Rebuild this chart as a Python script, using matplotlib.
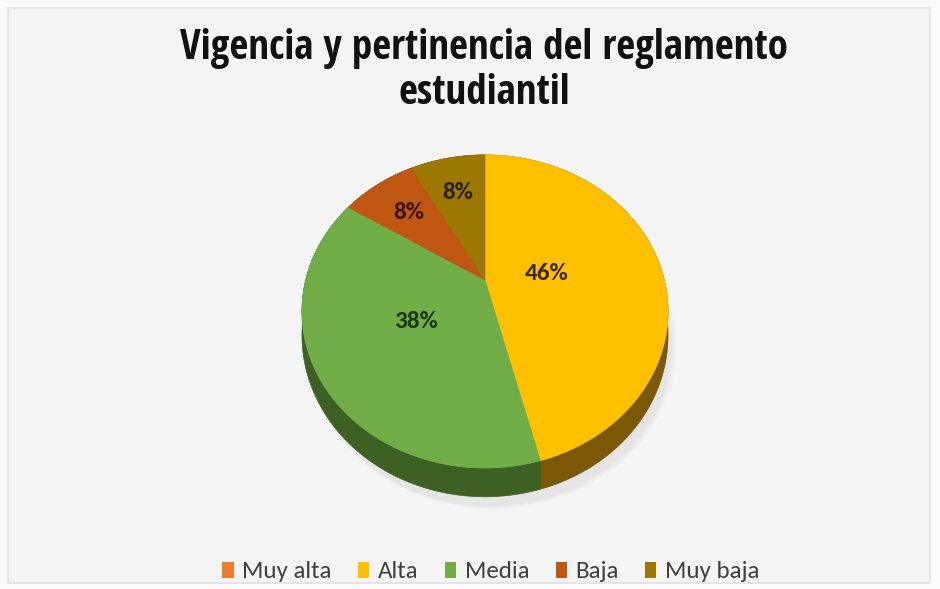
import numpy as np
import matplotlib.pyplot as plt
from matplotlib.patches import Polygon, Rectangle, Patch

# --------------------------------------
# Data
# --------------------------------------
categories = ['Muy alta', 'Alta', 'Media', 'Baja', 'Muy baja']
values = [0, 46, 38, 8, 8]
pct_labels = ['0%', '46%', '38%', '8%', '8%']

top_colors = ['#ED7D31', '#FFC000', '#70AD47', '#BF5712', '#9C7800']
side_colors = ['#9E4F1C', '#7B5806', '#3C6123', '#6E300A', '#5A4500']
text_colors = ['#3a1a05', '#3b2900', '#1d3810', '#3a1405', '#2b2000']
label_r = [0.5, 0.35, 0.45, 0.68, 0.68]

title = 'Vigencia y pertinencia del reglamento\nestudiantil'

# --------------------------------------
# Figure (pixel coordinates)
# --------------------------------------
W, H = 940, 589
fig = plt.figure(figsize=(W / 100, H / 100), dpi=100)
fig.patch.set_facecolor('#fbfbfb')
ax = fig.add_axes([0, 0, 1, 1])
ax.set_xlim(0, W)
ax.set_ylim(H, 0)
ax.axis('off')

ax.add_patch(Rectangle((8, 8), W - 18, H - 14, facecolor='#f4f4f4',
                       edgecolor='#e4e4e4', lw=1.5, zorder=0))

# perspective pie geometry
cx, cy = 485, 280
sx, sy, persp, depth = 179.3, 150.2, 0.201, 23


def proj(u, v, down=0.0):
    d = 1 + persp * v
    return cx + sx * u / d, cy - sy * v / d + down / d


# soft shadow under the pie
tt = np.linspace(0, 2 * np.pi, 200)
for k in range(3):
    px, py = proj(np.cos(tt), np.sin(tt), depth + 6)
    ax.add_patch(Polygon(np.column_stack([px + 4 + 2 * k, py + 2 + k]),
                         closed=True, facecolor='#9a9aa0', edgecolor='none',
                         alpha=0.05, zorder=1))

total = float(sum(values))
cum = np.cumsum([0] + values)
angles = 90 - 360 * cum / total   # clockwise from 12 o'clock

# side walls first
for i in range(len(values)):
    if values[i] == 0:
        continue
    th = np.radians(np.linspace(angles[i], angles[i + 1], 200))
    u, v = np.cos(th), np.sin(th)
    x1, y1 = proj(u, v)
    x2, y2 = proj(u, v, depth)
    pts = np.column_stack([np.r_[x1, x2[::-1]], np.r_[y1, y2[::-1]]])
    ax.add_patch(Polygon(pts, closed=True, facecolor=side_colors[i],
                         edgecolor=side_colors[i], lw=0.5, zorder=2))

# top surfaces
for i in range(len(values)):
    if values[i] == 0:
        continue
    th = np.radians(np.linspace(angles[i], angles[i + 1], 200))
    x1, y1 = proj(np.cos(th), np.sin(th))
    pts = np.column_stack([np.r_[cx, x1], np.r_[cy, y1]])
    ax.add_patch(Polygon(pts, closed=True, facecolor=top_colors[i],
                         edgecolor=top_colors[i], lw=0.5, zorder=3))

# labels
for i in range(len(values)):
    if values[i] == 0:
        continue
    mid = np.radians((angles[i] + angles[i + 1]) / 2)
    lx, ly = proj(label_r[i] * np.cos(mid), label_r[i] * np.sin(mid))
    ax.text(lx, ly, pct_labels[i], ha='center', va='center', fontsize=18,
            fontweight='bold', family='Carlito', color=text_colors[i], zorder=5)

# title
ax.text(484, 71, title, ha='center', va='center', fontsize=29.5,
        fontweight='bold', family=['Open Sans Condensed', 'DejaVu Sans'],
        color='#111111', linespacing=1.15, zorder=5)

# legend
handles = [Patch(facecolor=c, edgecolor='none') for c in top_colors]
leg = fig.legend(handles, categories, loc='center', ncol=5,
                 bbox_to_anchor=(491 / W, 1 - 572 / H), frameon=False,
                 prop={'family': 'Carlito', 'size': 18}, handlelength=0.45,
                 handleheight=0.6, handletextpad=0.35, columnspacing=1.05)
for t in leg.get_texts():
    t.set_color('#404040')

plt.savefig('out.png', dpi=100, facecolor=fig.get_facecolor())
